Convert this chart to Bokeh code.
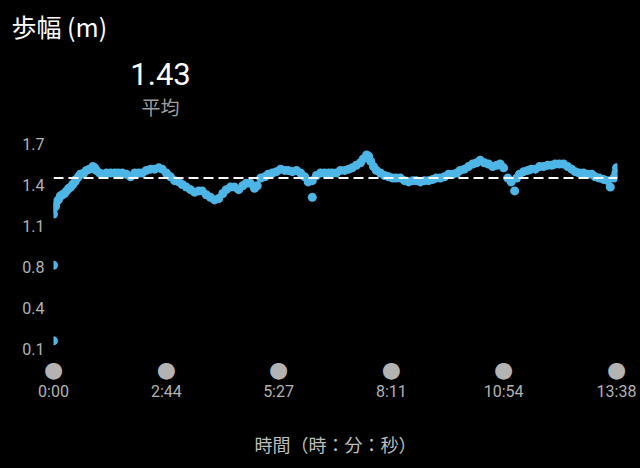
from bokeh.plotting import figure
from bokeh.models import Range1d, FixedTicker, LinearAxis, Span
from bokeh.core.properties import value
from bokeh.embed import file_html
from bokeh.resources import INLINE

# ---- data ----
title_text = "歩幅 (m)"
avg_label = "平均"
x_title = "時間（時：分：秒）"
avg_value = 1.43

# elapsed seconds
t_sec = [0, 0,
         0, 0, 3, 4, 7, 10, 13, 16, 19, 22, 25, 28, 31, 33, 36, 39, 44, 48, 52, 57,
         60, 62, 67, 71, 77, 83, 89, 94, 100, 106, 112, 118, 124, 129, 135, 141, 147,
         153, 158, 164, 170, 176, 182, 187, 193, 199, 205, 211, 216, 222, 228, 234,
         240, 246, 251, 257, 263, 269, 275, 280, 286, 292, 296, 301, 307, 312, 318,
         324, 330, 336, 341, 347, 353, 359, 365, 370, 376, 376, 382, 388, 394, 400,
         405, 411, 417, 423, 429, 434, 440, 446, 450, 455, 458, 461, 465, 469, 475,
         481, 487, 493, 498, 504, 510, 516, 522, 527, 533, 539, 545, 551, 556, 562,
         568, 574, 580, 586, 591, 597, 603, 609, 615, 620, 626, 632, 638, 644, 649,
         654, 660, 665, 670, 673, 677, 683, 689, 694, 700, 706, 712, 718, 724, 729,
         735, 741, 747, 753, 758, 764, 770, 776, 782, 787, 793, 799, 805, 809, 814,
         817, 818]
# stride length (m)
stride = [0.16, 0.75,
          1.15, 1.19, 1.21, 1.24, 1.26, 1.29, 1.30, 1.31, 1.33, 1.35, 1.36, 1.38, 1.40,
          1.42, 1.44, 1.46, 1.47, 1.49, 1.50, 1.52,
          1.51, 1.49, 1.47, 1.46, 1.47, 1.47, 1.47, 1.47, 1.47, 1.46, 1.44, 1.47, 1.47,
          1.47, 1.49, 1.50, 1.50, 1.51, 1.50, 1.47, 1.44, 1.41, 1.40, 1.38, 1.36,
          1.34, 1.32, 1.33, 1.33, 1.30, 1.28, 1.26, 1.27, 1.31, 1.34, 1.36, 1.36,
          1.34, 1.37, 1.39, 1.39, 1.35, 1.37, 1.43, 1.44, 1.46, 1.47, 1.48, 1.50,
          1.49, 1.49, 1.48, 1.49, 1.47, 1.44, 1.40, 1.28, 1.41, 1.45, 1.47, 1.47,
          1.47, 1.47, 1.47, 1.49, 1.49, 1.50, 1.51, 1.53, 1.55, 1.58, 1.61, 1.60,
          1.56, 1.52, 1.49, 1.47, 1.45, 1.44, 1.43, 1.43, 1.43, 1.41, 1.40, 1.41,
          1.41, 1.40, 1.41, 1.41, 1.42, 1.43, 1.43, 1.44, 1.46, 1.46, 1.47, 1.49,
          1.50, 1.52, 1.54, 1.55, 1.57, 1.55, 1.54, 1.52, 1.53, 1.54, 1.51, 1.43,
          1.40, 1.33, 1.43, 1.46, 1.48, 1.49, 1.50, 1.50, 1.52, 1.52, 1.53, 1.53,
          1.54, 1.54, 1.54, 1.52, 1.50, 1.48, 1.47, 1.47, 1.46, 1.46, 1.44, 1.43,
          1.42, 1.41, 1.36, 1.43, 1.47, 1.51]

y_ticks = [0.1, 0.42, 0.74, 1.06, 1.38, 1.7]
y_tick_labels = ["0.1", "0.4", "0.8", "1.1", "1.4", "1.7"]
x_ticks = [0, 164, 327, 491, 654, 818]
x_tick_labels = ["0:00", "2:44", "5:27", "8:11", "10:54", "13:38"]

BG = "#000000"
BLUE = "#4db6e6"
GRAY = "#b3b3b3"
W, H = 638, 466

# layout geometry (canvas pixels)
FRAME_L, FRAME_R = 53, 617
FRAME_T, FRAME_B = 45, 356
X0_PX, X1_PX = 53, 616              # pixel of first / last time tick
Y_HI_PX, Y_LO_PX = 143, 348         # pixel of top / bottom value tick

sx = (X1_PX - X0_PX) / (x_ticks[-1] - x_ticks[0])
sy = (Y_LO_PX - Y_HI_PX) / (y_ticks[-1] - y_ticks[0])
x_start = x_ticks[0] - (X0_PX - FRAME_L) / sx
x_end = x_ticks[-1] + (FRAME_R - X1_PX) / sx
y_top = y_ticks[-1] + (Y_HI_PX - FRAME_T) / sy
y_bot = y_ticks[0] - (FRAME_B - Y_LO_PX) / sy


def ydata(px):
    return y_ticks[-1] + (Y_HI_PX - px) / sy


def xdata(px):
    return x_ticks[0] + (px - X0_PX) / sx


p = figure(width=W, height=H, x_range=Range1d(x_start, x_end), y_range=Range1d(y_bot, y_top),
           output_backend="svg", toolbar_location=None,
           min_border_left=FRAME_L, min_border_right=W - FRAME_R,
           min_border_top=FRAME_T, min_border_bottom=H - FRAME_B)
p.background_fill_color = BG
p.border_fill_color = BG
p.outline_line_color = None
p.grid.visible = False

p.title.text = title_text
p.title.align = "left"
p.title.offset = -(FRAME_L - 11)
p.title.text_font = "Noto Sans CJK JP"
p.title.text_font_size = "25px"
p.title.text_font_style = "normal"
p.title.text_color = "#ffffff"
p.title.standoff = 3

# average value header
p.text(x=[xdata(160)], y=[ydata(73)], text=[f"{avg_value:.2f}"], text_align="center",
       text_baseline="middle", text_font=value("Roboto"), text_font_size="31px",
       text_color="#ffffff")
p.text(x=[xdata(160)], y=[ydata(106)], text=[avg_label], text_align="center",
       text_baseline="middle", text_font=value("Noto Sans CJK JP"), text_font_size="19px",
       text_color="#9e9e9e")

# data
p.scatter(x=t_sec, y=stride, size=9, fill_color=BLUE, line_color=None)
p.add_layout(Span(location=avg_value, dimension="width", line_color="#ffffff",
                  line_width=2, line_dash="10 5"))

ya = p.yaxis[0]
ya.ticker = FixedTicker(ticks=y_ticks)
ya.major_label_overrides = {t: l for t, l in zip(y_ticks, y_tick_labels)}
ya.axis_line_color = None
ya.major_tick_line_color = None
ya.minor_tick_line_color = None
ya.major_label_standoff = 3
ya.major_label_text_font = "Roboto"
ya.major_label_text_font_size = "16px"
ya.major_label_text_color = GRAY


def plain_axis(ax, labels, font, size, standoff):
    ax.ticker = FixedTicker(ticks=x_ticks)
    ax.major_label_overrides = {t: l for t, l in zip(x_ticks, labels)}
    ax.axis_line_color = None
    ax.major_tick_line_color = None
    ax.minor_tick_line_color = None
    ax.major_label_standoff = standoff
    ax.major_label_text_font = font
    ax.major_label_text_font_size = size
    ax.major_label_text_color = GRAY


# marker row (gray dots on each time tick)
plain_axis(p.xaxis[0], ["●"] * len(x_ticks), "DejaVu Sans", "22px", -6)

# time labels row
xa = LinearAxis()
plain_axis(xa, x_tick_labels, "Roboto", "16px", -9)
xa.axis_label = x_title
xa.axis_label_text_font = "Noto Sans CJK JP"
xa.axis_label_text_font_size = "18px"
xa.axis_label_text_font_style = "normal"
xa.axis_label_text_color = "#bdbdbd"
xa.axis_label_standoff = 27
p.add_layout(xa, "below")

html = file_html(p, INLINE)
html = html.replace("<head>", "<head><style>html,body{background:#000;}</style>", 1)
open("out.html", "w").write(html)
